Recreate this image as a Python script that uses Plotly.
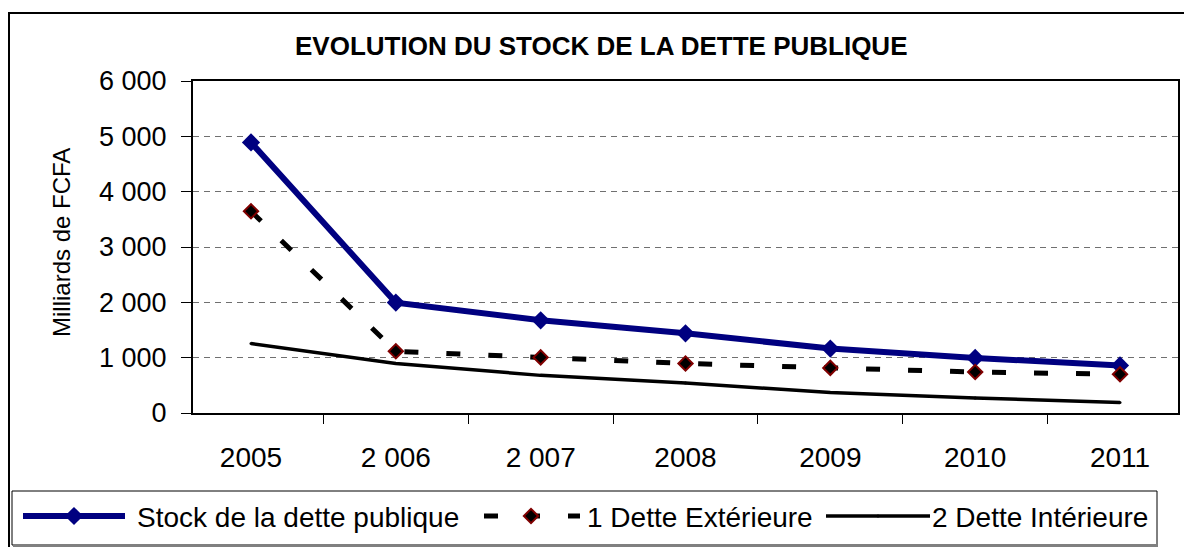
import plotly.graph_objects as go

# ---- data ----
years = ["2005", "2 006", "2 007", "2008", "2009", "2010", "2011"]
stock_dette = [4890, 1995, 1675, 1440, 1165, 995, 860]
dette_ext = [3645, 1115, 1005, 895, 815, 740, 700]
dette_int = [1255, 895, 680, 540, 370, 270, 190]
y_tickvals = [0, 1000, 2000, 3000, 4000, 5000, 6000]
y_ticktext = ["0", "1 000", "2 000", "3 000", "4 000", "5 000", "6 000"]

title_text = "EVOLUTION DU STOCK DE LA DETTE PUBLIQUE"
y_title = "Milliards de FCFA"
names = ["Stock de la dette publique", "1 Dette Extérieure", "2 Dette Intérieure"]

W, H = 1192, 547
OFF = 8  # the page body margin shifts the figure by 8 px; layout positions compensate
FONT = "Liberation Sans, Arial, sans-serif"
NAVY = "#000080"
DARKRED = "#800000"


def px(v):
    return v - OFF


# plot area (page pixels)
PL, PR, PT, PB = px(193), px(1178), px(81), px(413)

fig = go.Figure()

fig.add_trace(go.Scatter(
    x=years, y=stock_dette, mode="lines+markers", name=names[0],
    line=dict(color=NAVY, width=6),
    marker=dict(symbol="diamond", size=14, color=NAVY),
    xaxis="x", yaxis="y", showlegend=False))
fig.add_trace(go.Scatter(
    x=years, y=dette_ext, mode="lines+markers", name=names[1],
    line=dict(color="black", width=5, dash="14px,28px"),
    marker=dict(symbol="diamond", size=11, color="black",
                line=dict(color=DARKRED, width=2)),
    xaxis="x", yaxis="y", showlegend=False))
fig.add_trace(go.Scatter(
    x=years, y=dette_int, mode="lines+markers", name=names[2],
    line=dict(color="black", width=3.5),
    marker=dict(symbol="circle", size=3, color="black"),
    xaxis="x", yaxis="y", showlegend=False))

# ---- custom legend samples (overlay pixel axes) ----
LY = px(516)
fig.add_trace(go.Scatter(x=[px(23), px(125)], y=[LY, LY], mode="lines",
                         line=dict(color=NAVY, width=6),
                         xaxis="x2", yaxis="y2", showlegend=False, hoverinfo="skip"))
fig.add_trace(go.Scatter(x=[px(74)], y=[LY], mode="markers",
                         marker=dict(symbol="diamond", size=14, color=NAVY),
                         xaxis="x2", yaxis="y2", showlegend=False, hoverinfo="skip"))
fig.add_trace(go.Scatter(x=[px(484), px(580)], y=[LY, LY], mode="lines",
                         line=dict(color="black", width=5, dash="14px,28px"),
                         xaxis="x2", yaxis="y2", showlegend=False, hoverinfo="skip"))
fig.add_trace(go.Scatter(x=[px(531)], y=[LY], mode="markers",
                         marker=dict(symbol="diamond", size=11, color="black",
                                     line=dict(color=DARKRED, width=2)),
                         xaxis="x2", yaxis="y2", showlegend=False, hoverinfo="skip"))
fig.add_trace(go.Scatter(x=[px(826), px(930)], y=[LY, LY], mode="lines",
                         line=dict(color="black", width=3.5),
                         xaxis="x2", yaxis="y2", showlegend=False, hoverinfo="skip"))
fig.add_trace(go.Scatter(x=[px(878)], y=[LY], mode="markers",
                         marker=dict(symbol="circle", size=3, color="black"),
                         xaxis="x2", yaxis="y2", showlegend=False, hoverinfo="skip"))

LEG_FONT = dict(family=FONT, size=28, color="black")
annotations = [
    dict(text="<b>" + title_text + "</b>", x=px(601), y=px(46), xref="x2", yref="y2",
         showarrow=False, xanchor="center", yanchor="middle",
         font=dict(family=FONT, size=26, color="black")),
    dict(text=y_title, x=px(61), y=px(243), xref="x2", yref="y2", textangle=-90,
         showarrow=False, xanchor="center", yanchor="middle",
         font=dict(family=FONT, size=24, color="black")),
    dict(text=names[0], x=px(135), y=LY + 1, xref="x2", yref="y2", showarrow=False,
         xanchor="left", yanchor="middle", font=LEG_FONT),
    dict(text=names[1], x=px(585), y=LY + 1, xref="x2", yref="y2", showarrow=False,
         xanchor="left", yanchor="middle", font=LEG_FONT),
    dict(text=names[2], x=px(930), y=LY + 1, xref="x2", yref="y2", showarrow=False,
         xanchor="left", yanchor="middle", font=LEG_FONT),
]

shapes = [
    # outer frame
    dict(type="rect", xref="x2", yref="y2", x0=1, x1=1230, y0=px(13), y1=600,
         line=dict(color="black", width=2), layer="below"),
    # legend box
    dict(type="rect", xref="x2", yref="y2", x0=px(12), x1=px(1157), y0=px(491), y1=px(545),
         line=dict(color="black", width=1), layer="below"),
    dict(type="line", xref="x2", yref="y2", x0=px(13), x1=px(1158), y0=px(545.5), y1=px(545.5),
         line=dict(color="#808080", width=3)),
]

fig.update_layout(
    template="none",
    width=W, height=H,
    margin=dict(l=0, r=0, t=0, b=0, pad=0, autoexpand=False),
    paper_bgcolor="white",
    plot_bgcolor="rgba(0,0,0,0)",
    font=dict(family=FONT, color="black"),
    showlegend=False,
    annotations=annotations,
    shapes=shapes,
    xaxis=dict(
        domain=[PL / W, PR / W], anchor="y", type="category", automargin=False,
        showline=True, linecolor="black", linewidth=2, mirror=True,
        ticks="outside", tickson="boundaries", ticklen=9, tickcolor="black", tickwidth=1,
        showgrid=False, zeroline=False,
        tickfont=dict(family=FONT, size=28, color="black"),
        ticklabelstandoff=18, fixedrange=True,
    ),
    yaxis=dict(
        domain=[1 - PB / H, 1 - PT / H], anchor="x", automargin=False,
        range=[0, 6000], tickvals=y_tickvals, ticktext=y_ticktext,
        showline=True, linecolor="black", linewidth=2, mirror=True,
        ticks="outside", ticklen=10, tickcolor="black", tickwidth=1,
        showgrid=True, gridcolor="#707070", gridwidth=1, griddash="6px,5px",
        zeroline=False,
        tickfont=dict(family=FONT, size=27, color="black"),
        ticklabelstandoff=9, fixedrange=True,
    ),
    xaxis2=dict(domain=[0, 1], range=[0, W], anchor="y2", visible=False,
                fixedrange=True, automargin=False),
    yaxis2=dict(domain=[0, 1], range=[H, 0], anchor="x2", visible=False,
                fixedrange=True, automargin=False),
)

fig.write_html("out.html")
